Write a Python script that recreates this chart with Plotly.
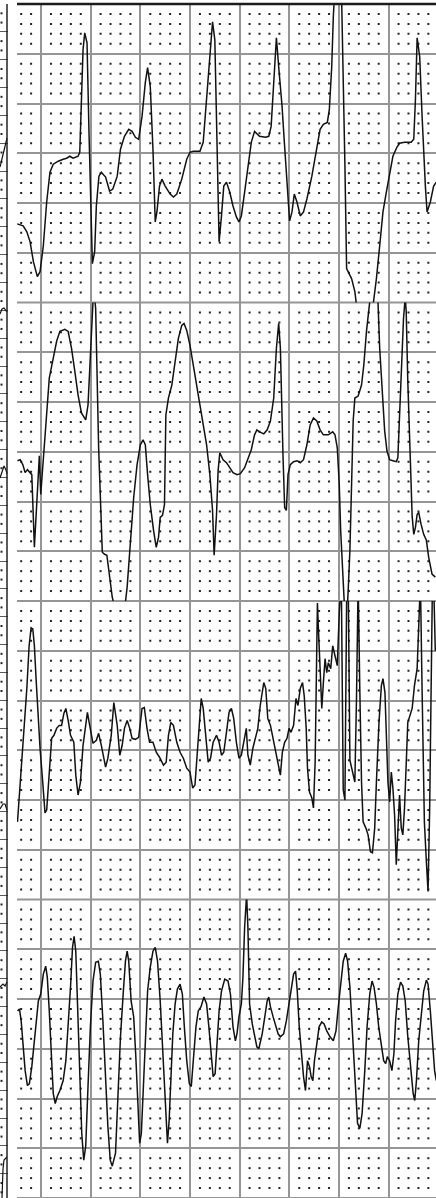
import numpy as np
import plotly.graph_objects as go

# ---- data: 4 EEG channels, x in samples (250 Hz, 50 samples = one major cell = 0.2 s),
# ---- amplitude in uV (50 uV = one major cell)
FS = 250

t1 = [-24, -18, -14.3, -11, -7.7, -3.7, -1, 2.3, 5.7, 9, 12.3, 17.3, 22.3, 25.7, 29, 32.3, 37.3, 39, 40.7,
      42.3, 44, 46.3, 48.3, 49.7, 51.7, 54, 55.7, 58.3, 60.7, 65, 69, 72.3, 76.7, 80, 84, 88.3, 91.7, 95,
      98.3, 101.7, 105, 107.3, 110, 112.7, 115, 116.7, 119.3, 121.7, 125, 130, 133.3, 136.7, 141.7, 146.7,
      150, 153.3, 160, 163.3, 166.7, 170, 172.7, 175, 177.3, 179.3, 181.7, 184, 186.7, 190, 193.3, 196.7,
      199.3, 201.7, 205, 208.3, 211.7, 215, 220, 226, 229.3, 231.7, 234.3, 237, 239.3, 242.7, 245, 247.7,
      250.3, 252.7, 255, 257.7, 261, 264.3, 267.7, 272.7, 277.7, 281, 284.3, 288.3, 290.3, 292.7, 294.3,
      296, 298.5, 301.7, 302.7, 306, 307.7, 312.7, 316, 319.3, 325, 332.7, 335, 337.7, 341, 344.3, 347.7,
      351, 354.3, 358.3, 361, 366, 372.7, 375.3, 377, 378.7, 381.3, 383.7, 385.3, 387, 388.7, 392, 395.3, 398]
v1 = [-71, -73, -79, -89, -109, -124, -119, -93, -49, -19, -11, -8, -6, -5, -3, -5, -3, 1, 54, 104, 121, 111,
      21, -46, -111, -99, -53, -23, -19, -24, -38, -36, -23, 4, 17, 24, 22, 16, 14, 37, 71, 86, 67, 4, -69,
      -59, -33, -26, -33, -41, -44, -41, -26, -6, 1, 2, 2, 11, 54, 104, 132, 114, 21, -89, -63, -33, -29,
      -39, -53, -64, -69, -63, -39, -13, 11, 22, 17, 16, 17, 27, 71, 116, 87, 47, 11, -33, -68, -59, -41,
      -49, -63, -59, -46, -23, 4, 24, 29, 31, 44, 87, 137, 187, 215, 170, 154, -13, -116, -126, -139, -166,
      -190, -166, -148, -126, -93, -59, -39, -19, -3, 6, 10, 11, 11, 14, 54, 116, 97, 37, -6, -33, -59, -49,
      -33, -29]

t2 = [-23.7, -21, -18.3, -16, -13.7, -9.3, -6.7, -3.7, -1.7, -0.3, 3, 5.7, 8.3, 12.3, 15.7, 19, 24, 27.3,
      30.7, 34, 37.3, 40.7, 45, 47.3, 49, 51, 53, 55, 56.3, 58, 61.7, 64, 66.3, 69, 71.7, 78.3, 85, 86.7, 90,
      93.3, 96.7, 100, 102.7, 105, 107.3, 110, 113.3, 116, 118.3, 120, 122.3, 124.3, 125.7, 128.3, 131.7,
      135, 138.3, 141.7, 144, 146.7, 150, 153.3, 156.7, 160, 163.3, 166.7, 170, 172.7, 174.3, 176.7, 178.3,
      180, 183.3, 186.7, 190, 193.3, 197.3, 200.7, 205, 208.3, 211.7, 215, 217.3, 220, 224.3, 227.7, 231,
      234.3, 237, 239.3, 241, 243.7, 245.3, 247, 248.7, 251, 254.3, 257.7, 261, 264.3, 267.7, 271, 274.3,
      277.7, 281, 284.3, 289.3, 293.7, 296, 298.3, 300.3, 301.7, 303.7, 305.7, 307, 309.3, 311, 312.7,
      314.3, 316, 319.3, 322.7, 325, 327.7, 330.3, 332, 336, 339.3, 341, 343.7, 346, 348.3, 351, 354.3,
      357.7, 359.3, 361, 362.7, 365, 366.7, 367.7, 369.3, 372, 373.7, 375.3, 377, 378.7, 380.3, 382.7,
      385.3, 388, 390.3, 393.7, 397]
v2 = [-9, -8, -13, -21, -18, -23, -96, -33, -4, -43, 4, 44, 74, 94, 111, 121, 123, 121, 104, 81, 57, 39, 32,
      47, 87, 134, 165, 144, 87, 4, -101, -103, -104, -123, -146, -175, -151, -136, -89, -46, -13, 7, 12, 7,
      -23, -53, -79, -96, -86, -66, -64, -53, 37, 54, 67, 91, 114, 127, 129, 122, 107, 87, 67, 47, 27, 7,
      -23, -59, -104, -63, -19, -1, -8, -11, -16, -21, -23, -22, -16, -8, 2, 17, 22, 20, 18, 22, 31, 54, 104,
      129, 104, -6, -56, -59, -23, -13, -10, -9, -11, -8, 7, 27, 34, 31, 22, 17, 17, 20, 17, 4, -33, -79,
      -129, -165, -185, -139, -99, -33, 31, 54, 56, 67, 87, 121, 141, 160, 175, 150, 104, 54, 21, 1, -8, -9,
      -10, -6, 37, 87, 134, 155, 141, 71, -13, -65, -83, -76, -63, -61, -73, -83, -89, -106, -123, -126]

t3 = [-23.7, -21.7, -19.3, -17, -14.3, -12, -10, -8.3, -6.7, -5, -3.3, -1, 1.7, 4, 5.7, 8.3, 10.7, 13, 15.7,
      18.3, 20.7, 23, 25, 27.3, 29.7, 33, 35, 37.3, 39.7, 42.3, 45, 46.7, 49, 52.3, 55.7, 58, 60.7, 63, 65,
      67.3, 70.7, 73.3, 76.7, 79.3, 81.7, 84, 86.7, 89.3, 91.7, 95, 98.3, 101.7, 104, 106.7, 109.3, 112.7,
      116, 119.3, 123.3, 126, 128.3, 130.7, 133.3, 136.7, 140, 143.3, 146.7, 150, 152.7, 155, 157.3, 159.3,
      161.3, 163.3, 166, 168.3, 170.7, 173.3, 176.7, 179.3, 181.7, 184, 186.7, 189.3, 191.7, 194, 196.7,
      199.3, 201.7, 205, 206.7, 208.3, 210.7, 213.3, 216, 218.3, 220.7, 224.3, 226.3, 228.3, 231, 233.7,
      236.3, 239, 241, 243, 245.3, 247.7, 249.7, 251.7, 254.3, 256.7, 258.7, 261, 263.3, 265, 267, 268.3,
      270.3, 272.7, 274.3, 276, 277, 278.3, 279.3, 281, 282.7, 284.3, 286, 287.7, 289.3, 291.7, 293.7, 296,
      298.3, 300.3, 302.3, 304.3, 306, 307.7, 309.3, 311, 312.7, 314.3, 316, 317.7, 319.3, 321, 322.7,
      324.3, 327, 329.3, 331.7, 333.7, 336, 337.7, 340.3, 342.7, 344.3, 346.3, 347.7, 349.3, 351, 352.7,
      354.3, 356, 357.7, 359.3, 361, 362.7, 364.3, 366, 367.7, 369.3, 373.7, 376, 378.7, 380.3, 382, 383.7,
      386, 388, 389.7, 391.3, 392.7, 394, 395.3, 397]
v3 = [-72, -45, -12, 22, 62, 105, 123, 122, 105, 72, 38, 2, -32, -63, -60, -25, 12, 15, 22, 25, 25, 37, 42,
      30, 15, 8, -25, -45, -32, 5, 28, 38, 25, 7, 10, 17, 5, -8, -17, -8, 15, 48, 25, -5, 5, 22, 30, 22, 12,
      11, 13, 42, 43, 22, 8, 8, -2, -7, -15, -12, 15, 28, 25, 8, -2, -8, -18, -22, -38, -35, -5, 22, 52, 42,
      15, -12, -8, 8, 15, 8, -5, -2, 18, 38, 42, 32, 8, -8, -5, 15, 22, -5, -15, 2, 12, 22, 45, 68, 62, 32,
      25, 12, -2, -12, -25, -2, 8, 12, 22, 18, 25, 52, 45, 62, 68, 55, 22, -18, -42, -48, -58, -12, 88, 148,
      122, 88, 42, 68, 92, 78, 88, 82, 105, 95, 85, 138, 175, -40, -50, 150, 170, -10, -18, -25, -32, 55,
      170, 60, -32, -72, -78, -85, -102, -103, -78, -32, 28, 65, 72, 58, 22, -32, -52, -22, -38, -65, -115,
      -78, -45, -78, -85, -58, -12, 28, 42, 65, 82, 122, 170, 60, -72, -112, -142, -60, 60, 160, 170, 100]

t4 = [-23.7, -21.7, -20, -18.3, -16, -13.7, -11.7, -9.3, -7, -4.3, -2.7, -0.3, 2.3, 4.7, 6.3, 8.3, 10.3,
      12.3, 14.3, 16.3, 19, 22.3, 25, 27.3, 29.7, 31.7, 33.3, 35, 37, 39, 41, 43, 45, 47.3, 49.7, 52.3, 55,
      57.7, 59.7, 62.3, 65, 67.3, 69.7, 71.7, 75, 77.3, 80, 82.7, 85, 86.7, 88.3, 90.7, 93.3, 95.3, 97.3,
      99.3, 101, 102.7, 105, 107.3, 110, 112.7, 115, 117.3, 120, 122.3, 124.3, 126, 127.3, 129, 130.7,
      132.7, 135, 137.3, 140, 142.3, 144.3, 146.7, 149.3, 151.3, 153.3, 156, 158.3, 161, 164, 166.7, 169,
      171.3, 173.3, 175.3, 177.3, 179.3, 181.7, 185, 188.3, 190.7, 193.3, 195.7, 197.3, 199.3, 201.7, 203.3,
      205, 206, 207, 208.3, 210, 212.7, 215, 217.3, 219.3, 222.7, 225.3, 227.7, 229.3, 231, 233.7, 236,
      238.7, 241, 244.3, 247, 249.7, 252, 254.3, 256.3, 258, 260, 262, 264.3, 266.3, 268.3, 270.3, 272,
      273.7, 275.3, 277.7, 280, 282.7, 285, 287.7, 291, 294.3, 297, 299.3, 301.7, 304.3, 306.7, 308.7, 311,
      313.3, 315.3, 317, 318.7, 321, 323.3, 326, 328.3, 331, 333.3, 335.3, 337.7, 340, 342.7, 345, 347,
      348.7, 351, 353.3, 355.3, 357, 359.3, 362, 364.3, 366.7, 369.3, 372.7, 374.7, 376.3, 378, 380.3,
      382.7, 385.3, 388, 389.7, 392, 394.3, 396.3, 398]
v4 = [38, 40, 28, 5, -22, -37, -35, -18, 5, 38, 48, 55, 75, 83, 72, 38, -5, -45, -55, -48, -42, -32, -12, 22,
      62, 102, 113, 98, 38, -28, -85, -112, -98, -38, 22, 68, 87, 88, 75, 28, -28, -78, -112, -118, -105,
      -45, 12, 55, 88, 98, 88, 48, 32, -5, -52, -95, -85, -45, 15, 58, 82, 98, 102, 88, 48, 2, -42, -78,
      -95, -72, -28, 15, 45, 60, 65, 55, 22, -12, -35, -38, -12, 22, 38, 42, 52, 45, 22, -5, -28, -25, 2,
      38, 58, 70, 68, 55, 22, 8, 15, 32, 45, 72, 122, 145, 155, 122, 45, 25, 12, 2, 0, 15, 32, 48, 52, 42,
      32, 25, 15, 12, 15, 28, 45, 58, 75, 78, 58, 22, -5, -28, -42, -12, -18, -28, -32, -12, 5, 22, 27, 25,
      18, 12, 8, 18, 42, 65, 88, 96, 88, 62, 22, -18, -52, -75, -80, -65, -22, 22, 55, 68, 62, 45, 22, 2,
      -12, -15, -8, -12, -22, -5, 28, 55, 67, 63, 48, 12, -22, -45, -52, -32, 8, 35, 58, 69, 65, 38, 5, -22,
      -32]

# edge of the neighbouring page (narrow strip at the left)
strip_x = [0, 3, 5, 7, None, 0, 2, 4, 7, None, 0, 2, 4, 6, 7, None, 0, 3, 5, 7, None, 0, 3, 5, 7, None,
           7, 4, 3, 2]
strip_y = [163, 151, 142, 134, None, 310, 305, 304, 308, None, 474, 468, 462, 466, 470, None, 805, 800, 800,
           806, None, 983, 980, 982, 978, None, 1153, 1156, 1165, 1194]

GRID = '#959595'
DOT = '#222222'
INK = '#111111'

fig = go.Figure()

minor_x = [x for x in range(-20, 400, 10) if x % 50 != 0]
minor_y = [y for y in range(-140, 150, 10) if y % 50 != 0]
gx, gy = np.meshgrid(minor_x, minor_y)
yaxes = ['y', 'y2', 'y3', 'y4']
for ya in yaxes:
    fig.add_trace(go.Scatter(x=gx.ravel(), y=gy.ravel(), mode='markers', xaxis='x', yaxis=ya,
                             marker=dict(symbol='square', size=2, color=DOT, line=dict(width=0)),
                             hoverinfo='skip', showlegend=False))

for (tt, vv), ya in zip([(t1, v1), (t2, v2), (t3, v3), (t4, v4)], yaxes):
    fig.add_trace(go.Scatter(x=tt, y=vv, mode='lines', xaxis='x', yaxis=ya,
                             line=dict(color=INK, width=1.5), hoverinfo='skip', showlegend=False))

# strip
sstep = 27.85
sdots = [k * sstep / 3 for k in range(1, 130) if k % 3 != 0 and k * sstep / 3 < 1194]
fig.add_trace(go.Scatter(x=[1.5] * len(sdots), y=sdots, mode='markers', xaxis='x2', yaxis='y5',
                         marker=dict(symbol='square', size=2, color=DOT, line=dict(width=0)),
                         hoverinfo='skip', showlegend=False))
fig.add_trace(go.Scatter(x=strip_x, y=strip_y, mode='lines', xaxis='x2', yaxis='y5',
                         line=dict(color=INK, width=1.2), hoverinfo='skip', showlegend=False,
                         connectgaps=False))

W, H = 436, 1198
L0 = 17 / W
hidden = dict(showticklabels=False, ticks='', zeroline=False, showline=False, fixedrange=True)

layout = dict(
    width=W, height=H, margin=dict(l=0, r=0, t=4, b=0),
    paper_bgcolor='white', plot_bgcolor='white', showlegend=False,
    xaxis=dict(domain=[L0, 1], range=[-24.2, 397.7], tick0=0, dtick=50, showgrid=True,
               gridcolor=GRID, gridwidth=2, anchor='y4', **hidden),
    xaxis2=dict(domain=[0, 8 / W], range=[0, 8], showgrid=False, anchor='y5', **hidden),
    yaxis5=dict(domain=[0, 1], range=[1194, 0], tick0=0, dtick=sstep, showgrid=True,
                gridcolor='#5a5a5a', gridwidth=1.2, anchor='x2', **hidden),
)
doms = [[0.75, 1], [0.5, 0.75], [0.25, 0.5], [0, 0.25]]
for i, ya in enumerate(['yaxis', 'yaxis2', 'yaxis3', 'yaxis4']):
    layout[ya] = dict(domain=doms[i], range=[-150, 150], tick0=0, dtick=50, showgrid=True,
                      gridcolor=GRID, gridwidth=2, anchor='x', **hidden)
fig.update_layout(**layout)

shapes = []
for yb in [0, 0.25, 0.5, 0.75]:
    shapes.append(dict(type='line', xref='paper', yref='paper', x0=L0, x1=1, y0=yb, y1=yb,
                       line=dict(color=GRID, width=2), layer='below'))
shapes.append(dict(type='line', xref='paper', yref='paper', x0=L0, x1=1, y0=1, y1=1,
                   line=dict(color='#1c1c1c', width=2.5)))
shapes.append(dict(type='line', xref='x2', yref='paper', x0=7, x1=7, y0=0, y1=1,
                   line=dict(color='#222222', width=1.5)))
fig.update_layout(shapes=shapes)

fig.write_html('out.html', config={'displayModeBar': False, 'responsive': False},
               post_script="document.body.style.margin='0px';document.body.style.overflow='hidden';")
